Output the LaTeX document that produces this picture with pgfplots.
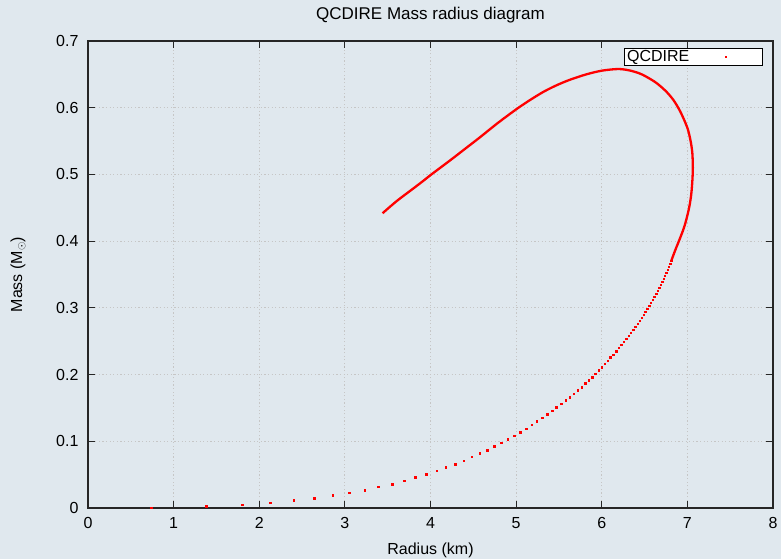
\documentclass[border=0pt]{standalone}
\usepackage{pgfplots}
\pgfplotsset{compat=1.18}
\usepackage{fontspec}
\setmainfont{Liberation Sans}
\definecolor{bgc}{RGB}{224,232,238}
\begin{document}
\begin{tikzpicture}
\useasboundingbox (-88bp,-51bp) rectangle (693bp,508bp);
\fill[bgc] (-88bp,-51bp) rectangle (693bp,508bp);
\begin{axis}[
  at={(0,0)}, anchor=south west,
  scale only axis, width=685bp, height=467bp,
  xmin=0, xmax=8, ymin=0, ymax=0.7,
  xtick={0,1,2,3,4,5,6,7,8},
  ytick={0,0.1,0.2,0.3,0.4,0.5,0.6,0.7},
  tick align=inside, major tick length=7bp,
  tick style={black!85, line width=1bp},
  axis line style={line width=1.2bp, black!85},
  grid=major,
  major grid style={gray!45, dash pattern=on 1.2bp off 2.4bp, line width=0.8bp},
  axis background/.style={fill=bgc},
  font=\fontsize{16bp}{19bp}\selectfont,
  ticklabel style={font=\fontsize{16bp}{19bp}\selectfont},
  /pgf/number format/assume math mode=true,
  xticklabel style={yshift=-6bp},
  yticklabel style={xshift=-6bp},
  title={QCDIRE Mass radius diagram},
  title style={at={(axis description cs:0.5,1.0428)}, anchor=center,
    font=\fontsize{17bp}{20bp}\selectfont},
  xlabel={Radius (km)},
  xlabel style={at={(axis description cs:0.5,-0.0899)}, anchor=center},
  ylabel={Mass (M\textsubscript{$\odot$})},
  ylabel style={at={(axis description cs:-0.1022,0.5)}, anchor=center},
  legend plot pos=right,
  legend cell align=left,
  legend style={at={(axis description cs:1,1)}, anchor=north east,
    xshift=-10bp, yshift=-6.5bp, fill=white, draw=black, line width=0.8bp,
    inner sep=1bp, font=\fontsize{16bp}{19bp}\selectfont,
    nodes={inner sep=1.5bp}},
]
\addplot[only marks, mark=square*, mark size=0.75bp, red,
  mark options={draw=none, fill=red},
  legend image code/.code={\path (0bp,0) (70bp,0); \fill[red] (34bp,-0.75bp) rectangle (35.5bp,0.75bp);}]
coordinates {
(0.74,0.0008) (1.38,0.0025) (1.80,0.005) (2.13,0.008) (2.40,0.0115)
(2.64,0.015) (2.86,0.019) (3.05,0.023) (3.23,0.027) (3.39,0.032)
(3.55,0.036) (3.69,0.041) (3.82,0.0465) (3.95,0.0505) (4.07,0.056)
(4.18,0.0615) (4.29,0.066) (4.39,0.071) (4.48,0.077) (4.572,0.082)
(4.66,0.087) (4.742,0.0925) (4.824,0.098) (4.90,0.103) (4.976,0.1085)
(5.046,0.1135) (5.116,0.119) (5.183,0.1245) (5.24,0.130) (5.303,0.1355)
(5.36,0.1405) (5.42,0.1455) (5.47,0.151) (5.525,0.156) (5.58,0.1615)
(5.626,0.166) (5.67,0.171) (5.72,0.1765) (5.763,0.181) (5.805,0.187)
(5.848,0.1915) (5.887,0.196) (5.926,0.201) (5.965,0.2065) (6.0,0.211)
(6.035,0.216) (6.07,0.221) (6.10,0.226) (6.135,0.230) (6.167,0.235)
(6.198,0.240) (6.228,0.2445) (6.257,0.249) (6.285,0.2535) (6.313,0.258)
(6.34,0.2625) (6.366,0.267) (6.392,0.2715) (6.417,0.276) (6.441,0.2805)
(6.465,0.285) (6.488,0.2895) (6.51,0.294) (6.532,0.2985) (6.553,0.303)
(6.574,0.3075) (6.594,0.312) (6.614,0.3165) (6.633,0.321) (6.652,0.3255)
(6.670,0.330) (6.688,0.3345) (6.705,0.339) (6.722,0.3435) (6.738,0.348)
(6.754,0.3525) (6.769,0.357) (6.784,0.3615) (6.798,0.366) (6.812,0.3705)
};
\addlegendentry{QCDIRE}
\addplot[red, line width=2.3bp, smooth, tension=0.5, forget plot] coordinates {
(6.812,0.3705) (6.86,0.387) (6.91,0.403) (6.96,0.420) (6.995,0.436)
(7.025,0.453) (7.045,0.470) (7.058,0.49) (7.064,0.51) (7.058,0.532)
(7.038,0.55) (7.007,0.567) (6.965,0.581) (6.91,0.596) (6.84,0.611)
(6.755,0.624) (6.64,0.637) (6.52,0.6465) (6.44,0.6515) (6.32,0.656)
(6.19,0.658) (6.0,0.6555) (5.82,0.650) (5.63,0.642) (5.47,0.6335)
(5.315,0.6235) (5.15,0.6105) (5.0,0.5975) (4.78,0.5765) (4.576,0.5555)
(4.42,0.540) (4.264,0.5245) (4.13,0.5115) (4.0,0.499) (3.93,0.4918)
(3.80,0.479) (3.68,0.4675) (3.60,0.4595) (3.52,0.4508) (3.44,0.4418)
};
\end{axis}
\end{tikzpicture}
\end{document}
